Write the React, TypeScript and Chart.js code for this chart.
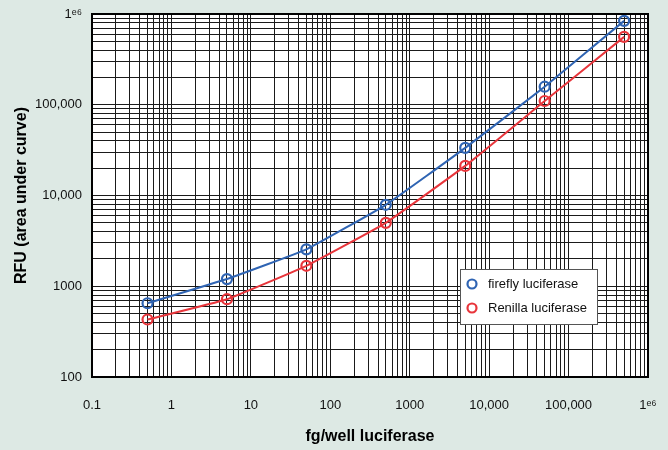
import React, { useEffect, useRef } from "react";
import { Chart, registerables } from "chart.js";

Chart.register(...registerables);

const amounts = [0.5, 5, 50, 500, 5000, 50000, 500000];
const fireflyRFU = [650, 1200, 2550, 7900, 33500, 158000, 840000];
const renillaRFU = [430, 720, 1680, 5000, 21200, 110000, 560000];

const xTickValues = [0.1, 1, 10, 100, 1000, 10000, 100000, 1000000];
const xTickLabels = ["0.1", "1", "10", "100", "1000", "10,000", "100,000", "1\u1D49\u2076"];
const yTickValues = [100, 1000, 10000, 100000, 1000000];
const yTickLabels = ["100", "1000", "10,000", "100,000", "1\u1D49\u2076"];

const seriesNames = ["firefly luciferase", "Renilla luciferase"];
const seriesColors = ["#2f64b3", "#e8353b"];

const FONT = '"Liberation Sans", Arial, Helvetica, sans-serif';

function decadeTicks(min: number, max: number) {
  const out: { value: number }[] = [];
  let e = Math.round(Math.log10(min));
  const eMax = Math.round(Math.log10(max));
  for (; e <= eMax; e++) {
    for (let d = 1; d <= 9; d++) {
      const v = d * Math.pow(10, e);
      if (v > max * 1.0000001) break;
      if (v >= min * 0.9999999) out.push({ value: v });
    }
  }
  return out;
}

function labelFor(values: number[], labels: string[], v: number) {
  for (let i = 0; i < values.length; i++) {
    if (Math.abs(v - values[i]) / values[i] < 1e-6) return labels[i];
  }
  return "";
}

const areaPlugin = {
  id: "areaPlugin",
  beforeDraw(chart: any) {
    const { ctx, chartArea } = chart;
    ctx.save();
    ctx.fillStyle = "#ffffff";
    ctx.fillRect(chartArea.left, chartArea.top, chartArea.right - chartArea.left, chartArea.bottom - chartArea.top);
    ctx.restore();
  },
  afterDatasetsDraw(chart: any) {
    const { ctx, chartArea } = chart;
    ctx.save();
    ctx.strokeStyle = "#000";
    ctx.lineWidth = 2;
    ctx.strokeRect(chartArea.left, chartArea.top, chartArea.right - chartArea.left, chartArea.bottom - chartArea.top);
    // legend
    const bx = chartArea.left + 368;
    const by = chartArea.top + 255;
    const bw = 137;
    const bh = 55;
    ctx.fillStyle = "#fff";
    ctx.fillRect(bx, by, bw, bh);
    ctx.strokeStyle = "#555";
    ctx.lineWidth = 1;
    ctx.strokeRect(bx + 0.5, by + 0.5, bw, bh);
    chart.data.datasets.forEach((ds: any, i: number) => {
      const cy = by + 15 + i * 24;
      ctx.beginPath();
      ctx.strokeStyle = ds.borderColor;
      ctx.lineWidth = 2.2;
      ctx.arc(bx + 12, cy, 4.5, 0, Math.PI * 2);
      ctx.stroke();
      ctx.fillStyle = "#111";
      ctx.font = "13px " + FONT;
      ctx.textBaseline = "middle";
      ctx.textAlign = "left";
      ctx.fillText(ds.label, bx + 28, cy);
    });
    ctx.restore();
  },
};

export default function App() {
  const ref = useRef<HTMLCanvasElement | null>(null);
  useEffect(() => {
    document.body.style.margin = "0";
    document.body.style.background = "#dde9e4";
    const series = [fireflyRFU, renillaRFU];
    const chart = new Chart(ref.current as HTMLCanvasElement, {
      type: "line",
      data: {
        datasets: series.map((vals, i) => ({
          label: seriesNames[i],
          data: amounts.map((x, j) => ({ x, y: vals[j] })),
          borderColor: seriesColors[i],
          backgroundColor: "rgba(0,0,0,0)",
          borderWidth: 2,
          pointRadius: 5,
          pointBorderWidth: 2.2,
          pointBackgroundColor: "rgba(0,0,0,0)",
          pointBorderColor: seriesColors[i],
          tension: 0.1,
          fill: false,
        })),
      },
      options: {
        animation: false,
        responsive: false,
        maintainAspectRatio: false,
        layout: { padding: { left: 0, right: 20, top: 14, bottom: 0 } },
        plugins: { legend: { display: false }, tooltip: { enabled: false } },
        scales: {
          x: {
            type: "logarithmic",
            min: 0.1,
            max: 1000000,
            afterBuildTicks: (s: any) => {
              s.ticks = decadeTicks(0.1, 1000000);
            },
            afterFit: (s: any) => {
              s.height = 73;
              s.paddingLeft = 0;
              s.paddingRight = 0;
            },
            grid: { color: "#1a1a1a", lineWidth: 1, drawTicks: false },
            border: { display: false },
            ticks: {
              autoSkip: false,
              maxRotation: 0,
              padding: 21,
              color: "#111",
              font: { family: FONT, size: 13 },
              callback: (v: any) => labelFor(xTickValues, xTickLabels, Number(v)),
            },
            title: {
              display: true,
              text: "fg/well luciferase",
              color: "#000",
              font: { family: FONT, size: 16, weight: "bold" },
              padding: { top: 0, bottom: 4 },
            },
          },
          y: {
            type: "logarithmic",
            min: 100,
            max: 1000000,
            afterBuildTicks: (s: any) => {
              s.ticks = decadeTicks(100, 1000000);
            },
            afterFit: (s: any) => {
              s.width = 92;
              s.paddingTop = 0;
              s.paddingBottom = 0;
            },
            grid: { color: "#1a1a1a", lineWidth: 1, drawTicks: false },
            border: { display: false },
            ticks: {
              autoSkip: false,
              padding: 10,
              color: "#111",
              font: { family: FONT, size: 13 },
              callback: (v: any) => labelFor(yTickValues, yTickLabels, Number(v)),
            },
            title: {
              display: true,
              text: "RFU (area under curve)",
              color: "#000",
              font: { family: FONT, size: 16, weight: "bold" },
              padding: { top: 12, bottom: 0 },
            },
          },
        },
      },
      plugins: [areaPlugin],
    } as any);
    return () => chart.destroy();
  }, []);
  return (
    <div style={{ width: 668, height: 450, background: "#dde9e4" }}>
      <canvas ref={ref} width={668} height={450} style={{ display: "block" }} />
    </div>
  );
}
